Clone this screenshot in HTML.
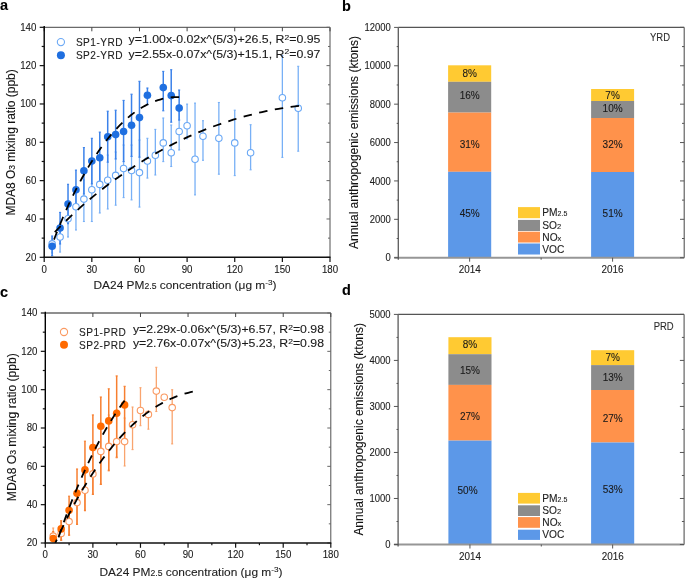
<!DOCTYPE html>
<html><head><meta charset="utf-8"><style>
html,body{margin:0;padding:0;background:#fff;}
svg{display:block;font-family:"Liberation Sans", sans-serif;will-change:transform;}
text{stroke:#1a1a1a;stroke-width:0.1px;}
</style></head><body>
<svg width="685" height="579" viewBox="0 0 685 579">
<rect width="685" height="579" fill="#fff"/>
<clipPath id="clipa"><rect x="44.2" y="27.3" width="285.8" height="230.0"/></clipPath>
<text x="0.00" y="9.60" font-size="14.5" text-anchor="start" fill="#000" font-weight="bold" >a</text>
<line x1="44.2" y1="27.3" x2="330.0" y2="27.3" stroke="#6a6a6a" stroke-width="1.3"/>
<line x1="330.0" y1="27.3" x2="330.0" y2="257.3" stroke="#505050" stroke-width="1"/>
<line x1="44.20" y1="27.3" x2="44.20" y2="31.3" stroke="#444" stroke-width="1"/>
<line x1="91.83" y1="27.3" x2="91.83" y2="31.3" stroke="#444" stroke-width="1"/>
<line x1="139.47" y1="27.3" x2="139.47" y2="31.3" stroke="#444" stroke-width="1"/>
<line x1="187.10" y1="27.3" x2="187.10" y2="31.3" stroke="#444" stroke-width="1"/>
<line x1="234.73" y1="27.3" x2="234.73" y2="31.3" stroke="#444" stroke-width="1"/>
<line x1="282.37" y1="27.3" x2="282.37" y2="31.3" stroke="#444" stroke-width="1"/>
<line x1="330.00" y1="27.3" x2="330.00" y2="31.3" stroke="#444" stroke-width="1"/>
<line x1="330.0" y1="257.30" x2="326.5" y2="257.30" stroke="#666" stroke-width="1"/>
<line x1="330.0" y1="238.13" x2="328.0" y2="238.13" stroke="#666" stroke-width="1"/>
<line x1="330.0" y1="218.97" x2="326.5" y2="218.97" stroke="#666" stroke-width="1"/>
<line x1="330.0" y1="199.80" x2="328.0" y2="199.80" stroke="#666" stroke-width="1"/>
<line x1="330.0" y1="180.63" x2="326.5" y2="180.63" stroke="#666" stroke-width="1"/>
<line x1="330.0" y1="161.47" x2="328.0" y2="161.47" stroke="#666" stroke-width="1"/>
<line x1="330.0" y1="142.30" x2="326.5" y2="142.30" stroke="#666" stroke-width="1"/>
<line x1="330.0" y1="123.13" x2="328.0" y2="123.13" stroke="#666" stroke-width="1"/>
<line x1="330.0" y1="103.97" x2="326.5" y2="103.97" stroke="#666" stroke-width="1"/>
<line x1="330.0" y1="84.80" x2="328.0" y2="84.80" stroke="#666" stroke-width="1"/>
<line x1="330.0" y1="65.63" x2="326.5" y2="65.63" stroke="#666" stroke-width="1"/>
<line x1="330.0" y1="46.47" x2="328.0" y2="46.47" stroke="#666" stroke-width="1"/>
<line x1="330.0" y1="27.30" x2="326.5" y2="27.30" stroke="#666" stroke-width="1"/>
<line x1="52.14" y1="253.00" x2="52.14" y2="238.00" stroke="#78b0f6" stroke-width="1.3"/>
<line x1="51.14" y1="253.00" x2="53.14" y2="253.00" stroke="#78b0f6" stroke-width="1.1"/>
<line x1="51.14" y1="238.00" x2="53.14" y2="238.00" stroke="#78b0f6" stroke-width="1.1"/>
<line x1="60.08" y1="252.10" x2="60.08" y2="222.00" stroke="#78b0f6" stroke-width="1.3"/>
<line x1="59.08" y1="252.10" x2="61.08" y2="252.10" stroke="#78b0f6" stroke-width="1.1"/>
<line x1="59.08" y1="222.00" x2="61.08" y2="222.00" stroke="#78b0f6" stroke-width="1.1"/>
<line x1="68.02" y1="237.00" x2="68.02" y2="203.00" stroke="#78b0f6" stroke-width="1.3"/>
<line x1="67.02" y1="237.00" x2="69.02" y2="237.00" stroke="#78b0f6" stroke-width="1.1"/>
<line x1="67.02" y1="203.00" x2="69.02" y2="203.00" stroke="#78b0f6" stroke-width="1.1"/>
<line x1="75.96" y1="230.00" x2="75.96" y2="190.00" stroke="#78b0f6" stroke-width="1.3"/>
<line x1="74.96" y1="230.00" x2="76.96" y2="230.00" stroke="#78b0f6" stroke-width="1.1"/>
<line x1="74.96" y1="190.00" x2="76.96" y2="190.00" stroke="#78b0f6" stroke-width="1.1"/>
<line x1="83.89" y1="221.50" x2="83.89" y2="180.00" stroke="#78b0f6" stroke-width="1.3"/>
<line x1="82.89" y1="221.50" x2="84.89" y2="221.50" stroke="#78b0f6" stroke-width="1.1"/>
<line x1="82.89" y1="180.00" x2="84.89" y2="180.00" stroke="#78b0f6" stroke-width="1.1"/>
<line x1="91.83" y1="221.50" x2="91.83" y2="165.00" stroke="#78b0f6" stroke-width="1.3"/>
<line x1="90.83" y1="221.50" x2="92.83" y2="221.50" stroke="#78b0f6" stroke-width="1.1"/>
<line x1="90.83" y1="165.00" x2="92.83" y2="165.00" stroke="#78b0f6" stroke-width="1.1"/>
<line x1="99.77" y1="213.00" x2="99.77" y2="160.00" stroke="#78b0f6" stroke-width="1.3"/>
<line x1="98.77" y1="213.00" x2="100.77" y2="213.00" stroke="#78b0f6" stroke-width="1.1"/>
<line x1="98.77" y1="160.00" x2="100.77" y2="160.00" stroke="#78b0f6" stroke-width="1.1"/>
<line x1="107.71" y1="209.00" x2="107.71" y2="155.00" stroke="#78b0f6" stroke-width="1.3"/>
<line x1="106.71" y1="209.00" x2="108.71" y2="209.00" stroke="#78b0f6" stroke-width="1.1"/>
<line x1="106.71" y1="155.00" x2="108.71" y2="155.00" stroke="#78b0f6" stroke-width="1.1"/>
<line x1="115.65" y1="205.20" x2="115.65" y2="152.00" stroke="#78b0f6" stroke-width="1.3"/>
<line x1="114.65" y1="205.20" x2="116.65" y2="205.20" stroke="#78b0f6" stroke-width="1.1"/>
<line x1="114.65" y1="152.00" x2="116.65" y2="152.00" stroke="#78b0f6" stroke-width="1.1"/>
<line x1="123.59" y1="197.60" x2="123.59" y2="145.00" stroke="#78b0f6" stroke-width="1.3"/>
<line x1="122.59" y1="197.60" x2="124.59" y2="197.60" stroke="#78b0f6" stroke-width="1.1"/>
<line x1="122.59" y1="145.00" x2="124.59" y2="145.00" stroke="#78b0f6" stroke-width="1.1"/>
<line x1="131.53" y1="199.90" x2="131.53" y2="145.00" stroke="#78b0f6" stroke-width="1.3"/>
<line x1="130.53" y1="199.90" x2="132.53" y2="199.90" stroke="#78b0f6" stroke-width="1.1"/>
<line x1="130.53" y1="145.00" x2="132.53" y2="145.00" stroke="#78b0f6" stroke-width="1.1"/>
<line x1="139.47" y1="207.10" x2="139.47" y2="140.00" stroke="#78b0f6" stroke-width="1.3"/>
<line x1="138.47" y1="207.10" x2="140.47" y2="207.10" stroke="#78b0f6" stroke-width="1.1"/>
<line x1="138.47" y1="140.00" x2="140.47" y2="140.00" stroke="#78b0f6" stroke-width="1.1"/>
<line x1="147.41" y1="178.10" x2="147.41" y2="138.30" stroke="#78b0f6" stroke-width="1.3"/>
<line x1="146.41" y1="178.10" x2="148.41" y2="178.10" stroke="#78b0f6" stroke-width="1.1"/>
<line x1="146.41" y1="138.30" x2="148.41" y2="138.30" stroke="#78b0f6" stroke-width="1.1"/>
<line x1="155.34" y1="175.00" x2="155.34" y2="129.40" stroke="#78b0f6" stroke-width="1.3"/>
<line x1="154.34" y1="175.00" x2="156.34" y2="175.00" stroke="#78b0f6" stroke-width="1.1"/>
<line x1="154.34" y1="129.40" x2="156.34" y2="129.40" stroke="#78b0f6" stroke-width="1.1"/>
<line x1="163.28" y1="161.60" x2="163.28" y2="118.00" stroke="#78b0f6" stroke-width="1.3"/>
<line x1="162.28" y1="161.60" x2="164.28" y2="161.60" stroke="#78b0f6" stroke-width="1.1"/>
<line x1="162.28" y1="118.00" x2="164.28" y2="118.00" stroke="#78b0f6" stroke-width="1.1"/>
<line x1="171.22" y1="166.50" x2="171.22" y2="125.00" stroke="#78b0f6" stroke-width="1.3"/>
<line x1="170.22" y1="166.50" x2="172.22" y2="166.50" stroke="#78b0f6" stroke-width="1.1"/>
<line x1="170.22" y1="125.00" x2="172.22" y2="125.00" stroke="#78b0f6" stroke-width="1.1"/>
<line x1="179.16" y1="150.00" x2="179.16" y2="105.00" stroke="#78b0f6" stroke-width="1.3"/>
<line x1="178.16" y1="150.00" x2="180.16" y2="150.00" stroke="#78b0f6" stroke-width="1.1"/>
<line x1="178.16" y1="105.00" x2="180.16" y2="105.00" stroke="#78b0f6" stroke-width="1.1"/>
<line x1="187.10" y1="138.80" x2="187.10" y2="104.10" stroke="#78b0f6" stroke-width="1.3"/>
<line x1="186.10" y1="138.80" x2="188.10" y2="138.80" stroke="#78b0f6" stroke-width="1.1"/>
<line x1="186.10" y1="104.10" x2="188.10" y2="104.10" stroke="#78b0f6" stroke-width="1.1"/>
<line x1="195.04" y1="194.90" x2="195.04" y2="103.10" stroke="#78b0f6" stroke-width="1.3"/>
<line x1="194.04" y1="194.90" x2="196.04" y2="194.90" stroke="#78b0f6" stroke-width="1.1"/>
<line x1="194.04" y1="103.10" x2="196.04" y2="103.10" stroke="#78b0f6" stroke-width="1.1"/>
<line x1="202.98" y1="160.30" x2="202.98" y2="120.70" stroke="#78b0f6" stroke-width="1.3"/>
<line x1="201.98" y1="160.30" x2="203.98" y2="160.30" stroke="#78b0f6" stroke-width="1.1"/>
<line x1="201.98" y1="120.70" x2="203.98" y2="120.70" stroke="#78b0f6" stroke-width="1.1"/>
<line x1="218.86" y1="174.20" x2="218.86" y2="102.50" stroke="#78b0f6" stroke-width="1.3"/>
<line x1="217.86" y1="174.20" x2="219.86" y2="174.20" stroke="#78b0f6" stroke-width="1.1"/>
<line x1="217.86" y1="102.50" x2="219.86" y2="102.50" stroke="#78b0f6" stroke-width="1.1"/>
<line x1="234.73" y1="175.60" x2="234.73" y2="110.20" stroke="#78b0f6" stroke-width="1.3"/>
<line x1="233.73" y1="175.60" x2="235.73" y2="175.60" stroke="#78b0f6" stroke-width="1.1"/>
<line x1="233.73" y1="110.20" x2="235.73" y2="110.20" stroke="#78b0f6" stroke-width="1.1"/>
<line x1="250.61" y1="169.80" x2="250.61" y2="124.70" stroke="#78b0f6" stroke-width="1.3"/>
<line x1="249.61" y1="169.80" x2="251.61" y2="169.80" stroke="#78b0f6" stroke-width="1.1"/>
<line x1="249.61" y1="124.70" x2="251.61" y2="124.70" stroke="#78b0f6" stroke-width="1.1"/>
<line x1="282.37" y1="157.40" x2="282.37" y2="55.50" stroke="#78b0f6" stroke-width="1.3"/>
<line x1="281.37" y1="157.40" x2="283.37" y2="157.40" stroke="#78b0f6" stroke-width="1.1"/>
<line x1="281.37" y1="55.50" x2="283.37" y2="55.50" stroke="#78b0f6" stroke-width="1.1"/>
<line x1="298.24" y1="151.20" x2="298.24" y2="66.30" stroke="#78b0f6" stroke-width="1.3"/>
<line x1="297.24" y1="151.20" x2="299.24" y2="151.20" stroke="#78b0f6" stroke-width="1.1"/>
<line x1="297.24" y1="66.30" x2="299.24" y2="66.30" stroke="#78b0f6" stroke-width="1.1"/>
<line x1="52.14" y1="255.70" x2="52.14" y2="236.00" stroke="#3b82ea" stroke-width="1.5"/>
<line x1="51.09" y1="255.70" x2="53.19" y2="255.70" stroke="#3b82ea" stroke-width="1.1"/>
<line x1="51.09" y1="236.00" x2="53.19" y2="236.00" stroke="#3b82ea" stroke-width="1.1"/>
<line x1="60.08" y1="244.00" x2="60.08" y2="212.40" stroke="#3b82ea" stroke-width="1.5"/>
<line x1="59.03" y1="244.00" x2="61.13" y2="244.00" stroke="#3b82ea" stroke-width="1.1"/>
<line x1="59.03" y1="212.40" x2="61.13" y2="212.40" stroke="#3b82ea" stroke-width="1.1"/>
<line x1="68.02" y1="223.70" x2="68.02" y2="184.30" stroke="#3b82ea" stroke-width="1.5"/>
<line x1="66.97" y1="223.70" x2="69.07" y2="223.70" stroke="#3b82ea" stroke-width="1.1"/>
<line x1="66.97" y1="184.30" x2="69.07" y2="184.30" stroke="#3b82ea" stroke-width="1.1"/>
<line x1="75.96" y1="209.50" x2="75.96" y2="170.10" stroke="#3b82ea" stroke-width="1.5"/>
<line x1="74.91" y1="209.50" x2="77.01" y2="209.50" stroke="#3b82ea" stroke-width="1.1"/>
<line x1="74.91" y1="170.10" x2="77.01" y2="170.10" stroke="#3b82ea" stroke-width="1.1"/>
<line x1="83.89" y1="194.00" x2="83.89" y2="147.60" stroke="#3b82ea" stroke-width="1.5"/>
<line x1="82.84" y1="194.00" x2="84.94" y2="194.00" stroke="#3b82ea" stroke-width="1.1"/>
<line x1="82.84" y1="147.60" x2="84.94" y2="147.60" stroke="#3b82ea" stroke-width="1.1"/>
<line x1="91.83" y1="183.90" x2="91.83" y2="138.30" stroke="#3b82ea" stroke-width="1.5"/>
<line x1="90.78" y1="183.90" x2="92.88" y2="183.90" stroke="#3b82ea" stroke-width="1.1"/>
<line x1="90.78" y1="138.30" x2="92.88" y2="138.30" stroke="#3b82ea" stroke-width="1.1"/>
<line x1="99.77" y1="183.50" x2="99.77" y2="132.10" stroke="#3b82ea" stroke-width="1.5"/>
<line x1="98.72" y1="183.50" x2="100.82" y2="183.50" stroke="#3b82ea" stroke-width="1.1"/>
<line x1="98.72" y1="132.10" x2="100.82" y2="132.10" stroke="#3b82ea" stroke-width="1.1"/>
<line x1="107.71" y1="162.20" x2="107.71" y2="111.20" stroke="#3b82ea" stroke-width="1.5"/>
<line x1="106.66" y1="162.20" x2="108.76" y2="162.20" stroke="#3b82ea" stroke-width="1.1"/>
<line x1="106.66" y1="111.20" x2="108.76" y2="111.20" stroke="#3b82ea" stroke-width="1.1"/>
<line x1="115.65" y1="159.00" x2="115.65" y2="110.20" stroke="#3b82ea" stroke-width="1.5"/>
<line x1="114.60" y1="159.00" x2="116.70" y2="159.00" stroke="#3b82ea" stroke-width="1.1"/>
<line x1="114.60" y1="110.20" x2="116.70" y2="110.20" stroke="#3b82ea" stroke-width="1.1"/>
<line x1="123.59" y1="161.60" x2="123.59" y2="100.40" stroke="#3b82ea" stroke-width="1.5"/>
<line x1="122.54" y1="161.60" x2="124.64" y2="161.60" stroke="#3b82ea" stroke-width="1.1"/>
<line x1="122.54" y1="100.40" x2="124.64" y2="100.40" stroke="#3b82ea" stroke-width="1.1"/>
<line x1="131.53" y1="156.40" x2="131.53" y2="94.20" stroke="#3b82ea" stroke-width="1.5"/>
<line x1="130.48" y1="156.40" x2="132.58" y2="156.40" stroke="#3b82ea" stroke-width="1.1"/>
<line x1="130.48" y1="94.20" x2="132.58" y2="94.20" stroke="#3b82ea" stroke-width="1.1"/>
<line x1="139.47" y1="157.20" x2="139.47" y2="81.30" stroke="#3b82ea" stroke-width="1.5"/>
<line x1="138.42" y1="157.20" x2="140.52" y2="157.20" stroke="#3b82ea" stroke-width="1.1"/>
<line x1="138.42" y1="81.30" x2="140.52" y2="81.30" stroke="#3b82ea" stroke-width="1.1"/>
<line x1="147.41" y1="104.60" x2="147.41" y2="88.00" stroke="#3b82ea" stroke-width="1.5"/>
<line x1="146.36" y1="104.60" x2="148.46" y2="104.60" stroke="#3b82ea" stroke-width="1.1"/>
<line x1="146.36" y1="88.00" x2="148.46" y2="88.00" stroke="#3b82ea" stroke-width="1.1"/>
<line x1="163.28" y1="110.80" x2="163.28" y2="71.40" stroke="#3b82ea" stroke-width="1.5"/>
<line x1="162.23" y1="110.80" x2="164.33" y2="110.80" stroke="#3b82ea" stroke-width="1.1"/>
<line x1="162.23" y1="71.40" x2="164.33" y2="71.40" stroke="#3b82ea" stroke-width="1.1"/>
<line x1="171.22" y1="122.20" x2="171.22" y2="69.70" stroke="#3b82ea" stroke-width="1.5"/>
<line x1="170.17" y1="122.20" x2="172.27" y2="122.20" stroke="#3b82ea" stroke-width="1.1"/>
<line x1="170.17" y1="69.70" x2="172.27" y2="69.70" stroke="#3b82ea" stroke-width="1.1"/>
<line x1="179.16" y1="120.10" x2="179.16" y2="90.00" stroke="#3b82ea" stroke-width="1.5"/>
<line x1="178.11" y1="120.10" x2="180.21" y2="120.10" stroke="#3b82ea" stroke-width="1.1"/>
<line x1="178.11" y1="90.00" x2="180.21" y2="90.00" stroke="#3b82ea" stroke-width="1.1"/>
<circle cx="52.14" cy="243.90" r="3.25" fill="#fff" stroke="#6aa8f5" stroke-width="1.1"/>
<circle cx="60.08" cy="237.00" r="3.25" fill="#fff" stroke="#6aa8f5" stroke-width="1.1"/>
<circle cx="68.02" cy="218.80" r="3.25" fill="#fff" stroke="#6aa8f5" stroke-width="1.1"/>
<circle cx="75.96" cy="206.80" r="3.25" fill="#fff" stroke="#6aa8f5" stroke-width="1.1"/>
<circle cx="83.89" cy="199.10" r="3.25" fill="#fff" stroke="#6aa8f5" stroke-width="1.1"/>
<circle cx="91.83" cy="189.70" r="3.25" fill="#fff" stroke="#6aa8f5" stroke-width="1.1"/>
<circle cx="99.77" cy="184.40" r="3.25" fill="#fff" stroke="#6aa8f5" stroke-width="1.1"/>
<circle cx="107.71" cy="180.30" r="3.25" fill="#fff" stroke="#6aa8f5" stroke-width="1.1"/>
<circle cx="115.65" cy="175.40" r="3.25" fill="#fff" stroke="#6aa8f5" stroke-width="1.1"/>
<circle cx="123.59" cy="168.50" r="3.25" fill="#fff" stroke="#6aa8f5" stroke-width="1.1"/>
<circle cx="131.53" cy="170.50" r="3.25" fill="#fff" stroke="#6aa8f5" stroke-width="1.1"/>
<circle cx="139.47" cy="172.60" r="3.25" fill="#fff" stroke="#6aa8f5" stroke-width="1.1"/>
<circle cx="147.41" cy="161.00" r="3.25" fill="#fff" stroke="#6aa8f5" stroke-width="1.1"/>
<circle cx="155.34" cy="155.30" r="3.25" fill="#fff" stroke="#6aa8f5" stroke-width="1.1"/>
<circle cx="163.28" cy="142.90" r="3.25" fill="#fff" stroke="#6aa8f5" stroke-width="1.1"/>
<circle cx="171.22" cy="152.80" r="3.25" fill="#fff" stroke="#6aa8f5" stroke-width="1.1"/>
<circle cx="179.16" cy="131.50" r="3.25" fill="#fff" stroke="#6aa8f5" stroke-width="1.1"/>
<circle cx="187.10" cy="125.70" r="3.25" fill="#fff" stroke="#6aa8f5" stroke-width="1.1"/>
<circle cx="195.04" cy="159.20" r="3.25" fill="#fff" stroke="#6aa8f5" stroke-width="1.1"/>
<circle cx="202.98" cy="136.30" r="3.25" fill="#fff" stroke="#6aa8f5" stroke-width="1.1"/>
<circle cx="218.86" cy="138.30" r="3.25" fill="#fff" stroke="#6aa8f5" stroke-width="1.1"/>
<circle cx="234.73" cy="142.90" r="3.25" fill="#fff" stroke="#6aa8f5" stroke-width="1.1"/>
<circle cx="250.61" cy="152.80" r="3.25" fill="#fff" stroke="#6aa8f5" stroke-width="1.1"/>
<circle cx="282.37" cy="97.70" r="3.25" fill="#fff" stroke="#6aa8f5" stroke-width="1.1"/>
<circle cx="298.24" cy="108.30" r="3.25" fill="#fff" stroke="#6aa8f5" stroke-width="1.1"/>
<circle cx="52.14" cy="246.20" r="3.8" fill="#1f6fe0"/>
<circle cx="60.08" cy="228.00" r="3.8" fill="#1f6fe0"/>
<circle cx="68.02" cy="204.00" r="3.8" fill="#1f6fe0"/>
<circle cx="75.96" cy="189.80" r="3.8" fill="#1f6fe0"/>
<circle cx="83.89" cy="170.80" r="3.8" fill="#1f6fe0"/>
<circle cx="91.83" cy="161.10" r="3.8" fill="#1f6fe0"/>
<circle cx="99.77" cy="157.80" r="3.8" fill="#1f6fe0"/>
<circle cx="107.71" cy="136.70" r="3.8" fill="#1f6fe0"/>
<circle cx="115.65" cy="134.60" r="3.8" fill="#1f6fe0"/>
<circle cx="123.59" cy="131.50" r="3.8" fill="#1f6fe0"/>
<circle cx="131.53" cy="125.30" r="3.8" fill="#1f6fe0"/>
<circle cx="139.47" cy="117.60" r="3.8" fill="#1f6fe0"/>
<circle cx="147.41" cy="95.20" r="3.8" fill="#1f6fe0"/>
<circle cx="163.28" cy="87.60" r="3.8" fill="#1f6fe0"/>
<circle cx="171.22" cy="95.60" r="3.8" fill="#1f6fe0"/>
<circle cx="179.16" cy="108.10" r="3.8" fill="#1f6fe0"/>
<polyline points="52.14,234.93 56.25,230.59 60.37,226.37 64.48,222.28 68.60,218.29 72.71,214.41 76.83,210.63 80.94,206.93 85.06,203.33 89.17,199.82 93.29,196.39 97.40,193.03 101.52,189.76 105.63,186.57 109.75,183.45 113.86,180.41 117.98,177.43 122.09,174.53 126.21,171.70 130.32,168.94 134.44,166.24 138.55,163.62 142.67,161.05 146.78,158.55 150.90,156.12 155.01,153.75 159.13,151.43 163.24,149.19 167.36,147.00 171.47,144.87 175.59,142.80 179.70,140.79 183.82,138.83 187.93,136.94 192.05,135.10 196.16,133.32 200.28,131.59 204.39,129.92 208.51,128.30 212.62,126.74 216.74,125.23 220.85,123.78 224.97,122.38 229.08,121.03 233.20,119.73 237.31,118.49 241.43,117.30 245.54,116.16 249.66,115.06 253.77,114.02 257.89,113.03 262.00,112.09 266.12,111.20 270.23,110.36 274.35,109.57 278.46,108.82 282.58,108.13 286.69,107.48 290.81,106.88 294.92,106.33 299.04,105.82" fill="none" stroke="#000" stroke-width="1.8" stroke-dasharray="8.5,7.5" stroke-dashoffset="12.15" clip-path="url(#clipa)"/>
<polyline points="52.14,244.67 54.26,239.01 56.37,233.53 58.49,228.21 60.61,223.03 62.72,218.01 64.84,213.12 66.96,208.36 69.08,203.73 71.19,199.23 73.31,194.85 75.43,190.59 77.54,186.45 79.66,182.42 81.78,178.50 83.89,174.69 86.01,170.99 88.13,167.40 90.25,163.90 92.36,160.51 94.48,157.23 96.60,154.04 98.71,150.94 100.83,147.95 102.95,145.05 105.06,142.24 107.18,139.53 109.30,136.91 111.42,134.38 113.53,131.94 115.65,129.59 117.77,127.33 119.88,125.16 122.00,123.07 124.12,121.07 126.24,119.15 128.35,117.32 130.47,115.57 132.59,113.91 134.70,112.32 136.82,110.82 138.94,109.40 141.05,108.06 143.17,106.80 145.29,105.62 147.41,104.52 149.52,103.49 151.64,102.54 153.76,101.67 155.87,100.88 157.99,100.16 160.11,99.52 162.22,98.96 164.34,98.46 166.46,98.05 168.58,97.70 170.69,97.43 172.81,97.24 174.93,97.11 177.04,97.06 179.16,97.08" fill="none" stroke="#000" stroke-width="1.8" stroke-dasharray="8.5,7.5" stroke-dashoffset="10.67" clip-path="url(#clipa)"/>
<line x1="44.2" y1="26.1" x2="44.2" y2="257.90000000000003" stroke="#000" stroke-width="1.4"/>
<line x1="43.6" y1="257.3" x2="330.5" y2="257.3" stroke="#111" stroke-width="1.4"/>
<line x1="44.20" y1="257.3" x2="44.20" y2="262.1" stroke="#111" stroke-width="1.2"/>
<text x="44.20" y="272.50" font-size="10.1" text-anchor="middle" fill="#1a1a1a" font-weight="normal" textLength="5.39" lengthAdjust="spacingAndGlyphs" >0</text>
<line x1="91.83" y1="257.3" x2="91.83" y2="262.1" stroke="#111" stroke-width="1.2"/>
<text x="91.83" y="272.50" font-size="10.1" text-anchor="middle" fill="#1a1a1a" font-weight="normal" textLength="10.78" lengthAdjust="spacingAndGlyphs" >30</text>
<line x1="139.47" y1="257.3" x2="139.47" y2="262.1" stroke="#111" stroke-width="1.2"/>
<text x="139.47" y="272.50" font-size="10.1" text-anchor="middle" fill="#1a1a1a" font-weight="normal" textLength="10.78" lengthAdjust="spacingAndGlyphs" >60</text>
<line x1="187.10" y1="257.3" x2="187.10" y2="262.1" stroke="#111" stroke-width="1.2"/>
<text x="187.10" y="272.50" font-size="10.1" text-anchor="middle" fill="#1a1a1a" font-weight="normal" textLength="10.78" lengthAdjust="spacingAndGlyphs" >90</text>
<line x1="234.73" y1="257.3" x2="234.73" y2="262.1" stroke="#111" stroke-width="1.2"/>
<text x="234.73" y="272.50" font-size="10.1" text-anchor="middle" fill="#1a1a1a" font-weight="normal" textLength="16.17" lengthAdjust="spacingAndGlyphs" >120</text>
<line x1="282.37" y1="257.3" x2="282.37" y2="262.1" stroke="#111" stroke-width="1.2"/>
<text x="282.37" y="272.50" font-size="10.1" text-anchor="middle" fill="#1a1a1a" font-weight="normal" textLength="16.17" lengthAdjust="spacingAndGlyphs" >150</text>
<line x1="330.00" y1="257.3" x2="330.00" y2="262.1" stroke="#111" stroke-width="1.2"/>
<text x="330.00" y="272.50" font-size="10.1" text-anchor="middle" fill="#1a1a1a" font-weight="normal" textLength="16.17" lengthAdjust="spacingAndGlyphs" >180</text>
<line x1="44.2" y1="257.30" x2="39.7" y2="257.30" stroke="#111" stroke-width="1.2"/>
<text x="36.40" y="260.70" font-size="10.1" text-anchor="end" fill="#1a1a1a" font-weight="normal" textLength="10.78" lengthAdjust="spacingAndGlyphs" >20</text>
<line x1="44.2" y1="238.13" x2="41.7" y2="238.13" stroke="#111" stroke-width="1.2"/>
<line x1="44.2" y1="218.97" x2="39.7" y2="218.97" stroke="#111" stroke-width="1.2"/>
<text x="36.40" y="222.37" font-size="10.1" text-anchor="end" fill="#1a1a1a" font-weight="normal" textLength="10.78" lengthAdjust="spacingAndGlyphs" >40</text>
<line x1="44.2" y1="199.80" x2="41.7" y2="199.80" stroke="#111" stroke-width="1.2"/>
<line x1="44.2" y1="180.63" x2="39.7" y2="180.63" stroke="#111" stroke-width="1.2"/>
<text x="36.40" y="184.03" font-size="10.1" text-anchor="end" fill="#1a1a1a" font-weight="normal" textLength="10.78" lengthAdjust="spacingAndGlyphs" >60</text>
<line x1="44.2" y1="161.47" x2="41.7" y2="161.47" stroke="#111" stroke-width="1.2"/>
<line x1="44.2" y1="142.30" x2="39.7" y2="142.30" stroke="#111" stroke-width="1.2"/>
<text x="36.40" y="145.70" font-size="10.1" text-anchor="end" fill="#1a1a1a" font-weight="normal" textLength="10.78" lengthAdjust="spacingAndGlyphs" >80</text>
<line x1="44.2" y1="123.13" x2="41.7" y2="123.13" stroke="#111" stroke-width="1.2"/>
<line x1="44.2" y1="103.97" x2="39.7" y2="103.97" stroke="#111" stroke-width="1.2"/>
<text x="36.40" y="107.37" font-size="10.1" text-anchor="end" fill="#1a1a1a" font-weight="normal" textLength="16.17" lengthAdjust="spacingAndGlyphs" >100</text>
<line x1="44.2" y1="84.80" x2="41.7" y2="84.80" stroke="#111" stroke-width="1.2"/>
<line x1="44.2" y1="65.63" x2="39.7" y2="65.63" stroke="#111" stroke-width="1.2"/>
<text x="36.40" y="69.03" font-size="10.1" text-anchor="end" fill="#1a1a1a" font-weight="normal" textLength="16.17" lengthAdjust="spacingAndGlyphs" >120</text>
<line x1="44.2" y1="46.47" x2="41.7" y2="46.47" stroke="#111" stroke-width="1.2"/>
<line x1="44.2" y1="27.30" x2="39.7" y2="27.30" stroke="#111" stroke-width="1.2"/>
<text x="36.40" y="30.70" font-size="10.1" text-anchor="end" fill="#1a1a1a" font-weight="normal" textLength="16.17" lengthAdjust="spacingAndGlyphs" >140</text>
<circle cx="60.9" cy="42.1" r="3.6" fill="#fff" stroke="#6aa8f5" stroke-width="1.1"/>
<circle cx="60.9" cy="55.3" r="4" fill="#1f6fe0"/>
<text x="75.90" y="45.90" font-size="10.1" text-anchor="start" fill="#222" font-weight="normal" letter-spacing="0.5">SP1-YRD</text>
<text x="75.90" y="59.10" font-size="10.1" text-anchor="start" fill="#222" font-weight="normal" letter-spacing="0.5">SP2-YRD</text>
<text x="128.60" y="43.10" font-size="10.1" text-anchor="start" fill="#1a1a1a" font-weight="normal" textLength="191.8" lengthAdjust="spacingAndGlyphs" >y=1.00x-0.02x^(5/3)+26.5, R<tspan font-size="7" dy="-3.5">2</tspan><tspan dy="3.5">=0.95</tspan></text>
<text x="128.60" y="57.90" font-size="10.1" text-anchor="start" fill="#1a1a1a" font-weight="normal" textLength="191.8" lengthAdjust="spacingAndGlyphs" >y=2.55x-0.07x^(5/3)+15.1, R<tspan font-size="7" dy="-3.5">2</tspan><tspan dy="3.5">=0.97</tspan></text>
<text x="93.5" y="289.2" font-size="11.7" fill="#222" textLength="183" lengthAdjust="spacingAndGlyphs">DA24 PM<tspan font-size="8.5">2.5</tspan> concentration (μg m<tspan font-size="8" dy="-4">-3</tspan><tspan dy="4">)</tspan></text>
<text x="0" y="0" transform="translate(14.7,142.4) rotate(-90)" text-anchor="middle" font-size="12" fill="#111" textLength="146.2" lengthAdjust="spacingAndGlyphs">MDA8 O<tspan font-size="8.5">3</tspan> mixing ratio (ppb)</text>
<clipPath id="clipc"><rect x="45.3" y="313.0" width="285.5" height="230.0"/></clipPath>
<text x="0.00" y="296.80" font-size="14.5" text-anchor="start" fill="#000" font-weight="bold" >c</text>
<line x1="45.3" y1="313.0" x2="330.8" y2="313.0" stroke="#6a6a6a" stroke-width="1.3"/>
<line x1="330.8" y1="313.0" x2="330.8" y2="543.0" stroke="#505050" stroke-width="1"/>
<line x1="45.30" y1="313.0" x2="45.30" y2="317.0" stroke="#444" stroke-width="1"/>
<line x1="92.88" y1="313.0" x2="92.88" y2="317.0" stroke="#444" stroke-width="1"/>
<line x1="140.47" y1="313.0" x2="140.47" y2="317.0" stroke="#444" stroke-width="1"/>
<line x1="188.05" y1="313.0" x2="188.05" y2="317.0" stroke="#444" stroke-width="1"/>
<line x1="235.63" y1="313.0" x2="235.63" y2="317.0" stroke="#444" stroke-width="1"/>
<line x1="283.22" y1="313.0" x2="283.22" y2="317.0" stroke="#444" stroke-width="1"/>
<line x1="330.80" y1="313.0" x2="330.80" y2="317.0" stroke="#444" stroke-width="1"/>
<line x1="330.8" y1="543.00" x2="327.3" y2="543.00" stroke="#666" stroke-width="1"/>
<line x1="330.8" y1="523.83" x2="328.8" y2="523.83" stroke="#666" stroke-width="1"/>
<line x1="330.8" y1="504.67" x2="327.3" y2="504.67" stroke="#666" stroke-width="1"/>
<line x1="330.8" y1="485.50" x2="328.8" y2="485.50" stroke="#666" stroke-width="1"/>
<line x1="330.8" y1="466.33" x2="327.3" y2="466.33" stroke="#666" stroke-width="1"/>
<line x1="330.8" y1="447.17" x2="328.8" y2="447.17" stroke="#666" stroke-width="1"/>
<line x1="330.8" y1="428.00" x2="327.3" y2="428.00" stroke="#666" stroke-width="1"/>
<line x1="330.8" y1="408.83" x2="328.8" y2="408.83" stroke="#666" stroke-width="1"/>
<line x1="330.8" y1="389.67" x2="327.3" y2="389.67" stroke="#666" stroke-width="1"/>
<line x1="330.8" y1="370.50" x2="328.8" y2="370.50" stroke="#666" stroke-width="1"/>
<line x1="330.8" y1="351.33" x2="327.3" y2="351.33" stroke="#666" stroke-width="1"/>
<line x1="330.8" y1="332.17" x2="328.8" y2="332.17" stroke="#666" stroke-width="1"/>
<line x1="330.8" y1="313.00" x2="327.3" y2="313.00" stroke="#666" stroke-width="1"/>
<line x1="53.23" y1="542.00" x2="53.23" y2="528.00" stroke="#f9a46e" stroke-width="1.3"/>
<line x1="52.23" y1="542.00" x2="54.23" y2="542.00" stroke="#f9a46e" stroke-width="1.1"/>
<line x1="52.23" y1="528.00" x2="54.23" y2="528.00" stroke="#f9a46e" stroke-width="1.1"/>
<line x1="61.16" y1="540.00" x2="61.16" y2="522.00" stroke="#f9a46e" stroke-width="1.3"/>
<line x1="60.16" y1="540.00" x2="62.16" y2="540.00" stroke="#f9a46e" stroke-width="1.1"/>
<line x1="60.16" y1="522.00" x2="62.16" y2="522.00" stroke="#f9a46e" stroke-width="1.1"/>
<line x1="69.09" y1="535.00" x2="69.09" y2="505.00" stroke="#f9a46e" stroke-width="1.3"/>
<line x1="68.09" y1="535.00" x2="70.09" y2="535.00" stroke="#f9a46e" stroke-width="1.1"/>
<line x1="68.09" y1="505.00" x2="70.09" y2="505.00" stroke="#f9a46e" stroke-width="1.1"/>
<line x1="77.02" y1="524.00" x2="77.02" y2="485.00" stroke="#f9a46e" stroke-width="1.3"/>
<line x1="76.02" y1="524.00" x2="78.02" y2="524.00" stroke="#f9a46e" stroke-width="1.1"/>
<line x1="76.02" y1="485.00" x2="78.02" y2="485.00" stroke="#f9a46e" stroke-width="1.1"/>
<line x1="84.95" y1="510.00" x2="84.95" y2="465.00" stroke="#f9a46e" stroke-width="1.3"/>
<line x1="83.95" y1="510.00" x2="85.95" y2="510.00" stroke="#f9a46e" stroke-width="1.1"/>
<line x1="83.95" y1="465.00" x2="85.95" y2="465.00" stroke="#f9a46e" stroke-width="1.1"/>
<line x1="92.88" y1="494.00" x2="92.88" y2="445.00" stroke="#f9a46e" stroke-width="1.3"/>
<line x1="91.88" y1="494.00" x2="93.88" y2="494.00" stroke="#f9a46e" stroke-width="1.1"/>
<line x1="91.88" y1="445.00" x2="93.88" y2="445.00" stroke="#f9a46e" stroke-width="1.1"/>
<line x1="100.81" y1="484.00" x2="100.81" y2="425.00" stroke="#f9a46e" stroke-width="1.3"/>
<line x1="99.81" y1="484.00" x2="101.81" y2="484.00" stroke="#f9a46e" stroke-width="1.1"/>
<line x1="99.81" y1="425.00" x2="101.81" y2="425.00" stroke="#f9a46e" stroke-width="1.1"/>
<line x1="108.74" y1="470.00" x2="108.74" y2="415.00" stroke="#f9a46e" stroke-width="1.3"/>
<line x1="107.74" y1="470.00" x2="109.74" y2="470.00" stroke="#f9a46e" stroke-width="1.1"/>
<line x1="107.74" y1="415.00" x2="109.74" y2="415.00" stroke="#f9a46e" stroke-width="1.1"/>
<line x1="116.67" y1="457.80" x2="116.67" y2="410.00" stroke="#f9a46e" stroke-width="1.3"/>
<line x1="115.67" y1="457.80" x2="117.67" y2="457.80" stroke="#f9a46e" stroke-width="1.1"/>
<line x1="115.67" y1="410.00" x2="117.67" y2="410.00" stroke="#f9a46e" stroke-width="1.1"/>
<line x1="124.61" y1="466.00" x2="124.61" y2="418.00" stroke="#f9a46e" stroke-width="1.3"/>
<line x1="123.61" y1="466.00" x2="125.61" y2="466.00" stroke="#f9a46e" stroke-width="1.1"/>
<line x1="123.61" y1="418.00" x2="125.61" y2="418.00" stroke="#f9a46e" stroke-width="1.1"/>
<line x1="132.54" y1="449.60" x2="132.54" y2="407.00" stroke="#f9a46e" stroke-width="1.3"/>
<line x1="131.54" y1="449.60" x2="133.54" y2="449.60" stroke="#f9a46e" stroke-width="1.1"/>
<line x1="131.54" y1="407.00" x2="133.54" y2="407.00" stroke="#f9a46e" stroke-width="1.1"/>
<line x1="140.47" y1="425.70" x2="140.47" y2="387.70" stroke="#f9a46e" stroke-width="1.3"/>
<line x1="139.47" y1="425.70" x2="141.47" y2="425.70" stroke="#f9a46e" stroke-width="1.1"/>
<line x1="139.47" y1="387.70" x2="141.47" y2="387.70" stroke="#f9a46e" stroke-width="1.1"/>
<line x1="148.40" y1="429.20" x2="148.40" y2="414.40" stroke="#f9a46e" stroke-width="1.3"/>
<line x1="147.40" y1="429.20" x2="149.40" y2="429.20" stroke="#f9a46e" stroke-width="1.1"/>
<line x1="156.33" y1="411.50" x2="156.33" y2="367.30" stroke="#f9a46e" stroke-width="1.3"/>
<line x1="155.33" y1="411.50" x2="157.33" y2="411.50" stroke="#f9a46e" stroke-width="1.1"/>
<line x1="155.33" y1="367.30" x2="157.33" y2="367.30" stroke="#f9a46e" stroke-width="1.1"/>
<line x1="164.26" y1="397.20" x2="164.26" y2="397.20" stroke="#f9a46e" stroke-width="1.3"/>
<line x1="172.19" y1="443.90" x2="172.19" y2="389.70" stroke="#f9a46e" stroke-width="1.3"/>
<line x1="171.19" y1="443.90" x2="173.19" y2="443.90" stroke="#f9a46e" stroke-width="1.1"/>
<line x1="171.19" y1="389.70" x2="173.19" y2="389.70" stroke="#f9a46e" stroke-width="1.1"/>
<line x1="53.23" y1="541.60" x2="53.23" y2="531.60" stroke="#f77f30" stroke-width="1.5"/>
<line x1="52.18" y1="531.60" x2="54.28" y2="531.60" stroke="#f77f30" stroke-width="1.1"/>
<line x1="61.16" y1="540.30" x2="61.16" y2="520.70" stroke="#f77f30" stroke-width="1.5"/>
<line x1="60.11" y1="540.30" x2="62.21" y2="540.30" stroke="#f77f30" stroke-width="1.1"/>
<line x1="60.11" y1="520.70" x2="62.21" y2="520.70" stroke="#f77f30" stroke-width="1.1"/>
<line x1="69.09" y1="535.20" x2="69.09" y2="496.20" stroke="#f77f30" stroke-width="1.5"/>
<line x1="68.04" y1="535.20" x2="70.14" y2="535.20" stroke="#f77f30" stroke-width="1.1"/>
<line x1="68.04" y1="496.20" x2="70.14" y2="496.20" stroke="#f77f30" stroke-width="1.1"/>
<line x1="77.02" y1="524.40" x2="77.02" y2="469.00" stroke="#f77f30" stroke-width="1.5"/>
<line x1="75.97" y1="524.40" x2="78.07" y2="524.40" stroke="#f77f30" stroke-width="1.1"/>
<line x1="75.97" y1="469.00" x2="78.07" y2="469.00" stroke="#f77f30" stroke-width="1.1"/>
<line x1="84.95" y1="510.70" x2="84.95" y2="441.20" stroke="#f77f30" stroke-width="1.5"/>
<line x1="83.90" y1="510.70" x2="86.00" y2="510.70" stroke="#f77f30" stroke-width="1.1"/>
<line x1="83.90" y1="441.20" x2="86.00" y2="441.20" stroke="#f77f30" stroke-width="1.1"/>
<line x1="92.88" y1="494.40" x2="92.88" y2="414.90" stroke="#f77f30" stroke-width="1.5"/>
<line x1="91.83" y1="494.40" x2="93.93" y2="494.40" stroke="#f77f30" stroke-width="1.1"/>
<line x1="91.83" y1="414.90" x2="93.93" y2="414.90" stroke="#f77f30" stroke-width="1.1"/>
<line x1="100.81" y1="484.40" x2="100.81" y2="397.00" stroke="#f77f30" stroke-width="1.5"/>
<line x1="99.76" y1="484.40" x2="101.86" y2="484.40" stroke="#f77f30" stroke-width="1.1"/>
<line x1="99.76" y1="397.00" x2="101.86" y2="397.00" stroke="#f77f30" stroke-width="1.1"/>
<line x1="108.74" y1="470.80" x2="108.74" y2="388.80" stroke="#f77f30" stroke-width="1.5"/>
<line x1="107.69" y1="470.80" x2="109.79" y2="470.80" stroke="#f77f30" stroke-width="1.1"/>
<line x1="107.69" y1="388.80" x2="109.79" y2="388.80" stroke="#f77f30" stroke-width="1.1"/>
<line x1="116.67" y1="457.20" x2="116.67" y2="375.90" stroke="#f77f30" stroke-width="1.5"/>
<line x1="115.62" y1="457.20" x2="117.72" y2="457.20" stroke="#f77f30" stroke-width="1.1"/>
<line x1="115.62" y1="375.90" x2="117.72" y2="375.90" stroke="#f77f30" stroke-width="1.1"/>
<line x1="124.61" y1="440.00" x2="124.61" y2="386.30" stroke="#f77f30" stroke-width="1.5"/>
<line x1="123.56" y1="440.00" x2="125.66" y2="440.00" stroke="#f77f30" stroke-width="1.1"/>
<line x1="123.56" y1="386.30" x2="125.66" y2="386.30" stroke="#f77f30" stroke-width="1.1"/>
<circle cx="53.23" cy="536.10" r="3.25" fill="#fff" stroke="#fa9a62" stroke-width="1.1"/>
<circle cx="61.16" cy="533.40" r="3.25" fill="#fff" stroke="#fa9a62" stroke-width="1.1"/>
<circle cx="69.09" cy="521.60" r="3.25" fill="#fff" stroke="#fa9a62" stroke-width="1.1"/>
<circle cx="77.02" cy="502.60" r="3.25" fill="#fff" stroke="#fa9a62" stroke-width="1.1"/>
<circle cx="84.95" cy="490.20" r="3.25" fill="#fff" stroke="#fa9a62" stroke-width="1.1"/>
<circle cx="92.88" cy="473.90" r="3.25" fill="#fff" stroke="#fa9a62" stroke-width="1.1"/>
<circle cx="100.81" cy="451.40" r="3.25" fill="#fff" stroke="#fa9a62" stroke-width="1.1"/>
<circle cx="108.74" cy="446.40" r="3.25" fill="#fff" stroke="#fa9a62" stroke-width="1.1"/>
<circle cx="116.67" cy="441.60" r="3.25" fill="#fff" stroke="#fa9a62" stroke-width="1.1"/>
<circle cx="124.61" cy="441.60" r="3.25" fill="#fff" stroke="#fa9a62" stroke-width="1.1"/>
<circle cx="132.54" cy="424.80" r="3.25" fill="#fff" stroke="#fa9a62" stroke-width="1.1"/>
<circle cx="140.47" cy="410.50" r="3.25" fill="#fff" stroke="#fa9a62" stroke-width="1.1"/>
<circle cx="148.40" cy="414.40" r="3.25" fill="#fff" stroke="#fa9a62" stroke-width="1.1"/>
<circle cx="156.33" cy="391.10" r="3.25" fill="#fff" stroke="#fa9a62" stroke-width="1.1"/>
<circle cx="164.26" cy="397.20" r="3.25" fill="#fff" stroke="#fa9a62" stroke-width="1.1"/>
<circle cx="172.19" cy="407.60" r="3.25" fill="#fff" stroke="#fa9a62" stroke-width="1.1"/>
<circle cx="53.23" cy="538.50" r="3.8" fill="#ff6a00"/>
<circle cx="61.16" cy="528.90" r="3.8" fill="#ff6a00"/>
<circle cx="69.09" cy="510.20" r="3.8" fill="#ff6a00"/>
<circle cx="77.02" cy="493.20" r="3.8" fill="#ff6a00"/>
<circle cx="84.95" cy="469.90" r="3.8" fill="#ff6a00"/>
<circle cx="92.88" cy="447.50" r="3.8" fill="#ff6a00"/>
<circle cx="100.81" cy="426.30" r="3.8" fill="#ff6a00"/>
<circle cx="108.74" cy="420.90" r="3.8" fill="#ff6a00"/>
<circle cx="116.67" cy="413.20" r="3.8" fill="#ff6a00"/>
<circle cx="124.61" cy="404.90" r="3.8" fill="#ff6a00"/>
<polyline points="53.23,547.81 55.56,542.46 57.88,537.26 60.21,532.20 62.54,527.27 64.86,522.46 67.19,517.78 69.51,513.21 71.84,508.75 74.17,504.40 76.49,500.15 78.82,496.01 81.15,491.97 83.47,488.02 85.80,484.18 88.12,480.42 90.45,476.76 92.78,473.19 95.10,469.70 97.43,466.31 99.76,463.00 102.08,459.77 104.41,456.63 106.74,453.58 109.06,450.60 111.39,447.71 113.71,444.89 116.04,442.16 118.37,439.50 120.69,436.92 123.02,434.41 125.35,431.98 127.67,429.63 130.00,427.35 132.32,425.14 134.65,423.01 136.98,420.94 139.30,418.95 141.63,417.03 143.96,415.19 146.28,413.41 148.61,411.70 150.94,410.05 153.26,408.48 155.59,406.98 157.91,405.54 160.24,404.17 162.57,402.86 164.89,401.62 167.22,400.45 169.55,399.34 171.87,398.30 174.20,397.32 176.52,396.40 178.85,395.55 181.18,394.76 183.50,394.03 185.83,393.37 188.16,392.76 190.48,392.22 192.81,391.74" fill="none" stroke="#000" stroke-width="1.8" stroke-dasharray="8.5,7.5" stroke-dashoffset="15.56" clip-path="url(#clipc)"/>
<polyline points="53.23,553.37 54.42,549.66 55.61,546.01 56.80,542.42 57.99,538.87 59.18,535.38 60.37,531.94 61.56,528.54 62.75,525.19 63.94,521.88 65.13,518.62 66.32,515.40 67.51,512.22 68.70,509.08 69.88,505.99 71.07,502.93 72.26,499.92 73.45,496.94 74.64,494.00 75.83,491.10 77.02,488.24 78.21,485.42 79.40,482.63 80.59,479.87 81.78,477.16 82.97,474.47 84.16,471.83 85.35,469.21 86.54,466.64 87.73,464.09 88.92,461.58 90.11,459.10 91.30,456.66 92.49,454.24 93.68,451.86 94.87,449.51 96.06,447.20 97.25,444.91 98.43,442.66 99.62,440.44 100.81,438.24 102.00,436.08 103.19,433.95 104.38,431.85 105.57,429.78 106.76,427.74 107.95,425.73 109.14,423.75 110.33,421.80 111.52,419.87 112.71,417.98 113.90,416.11 115.09,414.28 116.28,412.47 117.47,410.69 118.66,408.93 119.85,407.21 121.04,405.51 122.23,403.84 123.42,402.20 124.61,400.59" fill="none" stroke="#000" stroke-width="1.8" stroke-dasharray="8.5,7.5" stroke-dashoffset="15.17" clip-path="url(#clipc)"/>
<line x1="45.3" y1="311.8" x2="45.3" y2="543.6" stroke="#000" stroke-width="1.4"/>
<line x1="44.699999999999996" y1="543.0" x2="331.3" y2="543.0" stroke="#111" stroke-width="1.4"/>
<line x1="45.30" y1="543.0" x2="45.30" y2="547.8" stroke="#111" stroke-width="1.2"/>
<text x="45.30" y="558.20" font-size="10.1" text-anchor="middle" fill="#1a1a1a" font-weight="normal" textLength="5.39" lengthAdjust="spacingAndGlyphs" >0</text>
<line x1="69.09" y1="543.0" x2="69.09" y2="545.2" stroke="#111" stroke-width="1.2"/>
<line x1="92.88" y1="543.0" x2="92.88" y2="547.8" stroke="#111" stroke-width="1.2"/>
<text x="92.88" y="558.20" font-size="10.1" text-anchor="middle" fill="#1a1a1a" font-weight="normal" textLength="10.78" lengthAdjust="spacingAndGlyphs" >30</text>
<line x1="116.67" y1="543.0" x2="116.67" y2="545.2" stroke="#111" stroke-width="1.2"/>
<line x1="140.47" y1="543.0" x2="140.47" y2="547.8" stroke="#111" stroke-width="1.2"/>
<text x="140.47" y="558.20" font-size="10.1" text-anchor="middle" fill="#1a1a1a" font-weight="normal" textLength="10.78" lengthAdjust="spacingAndGlyphs" >60</text>
<line x1="164.26" y1="543.0" x2="164.26" y2="545.2" stroke="#111" stroke-width="1.2"/>
<line x1="188.05" y1="543.0" x2="188.05" y2="547.8" stroke="#111" stroke-width="1.2"/>
<text x="188.05" y="558.20" font-size="10.1" text-anchor="middle" fill="#1a1a1a" font-weight="normal" textLength="10.78" lengthAdjust="spacingAndGlyphs" >90</text>
<line x1="211.84" y1="543.0" x2="211.84" y2="545.2" stroke="#111" stroke-width="1.2"/>
<line x1="235.63" y1="543.0" x2="235.63" y2="547.8" stroke="#111" stroke-width="1.2"/>
<text x="235.63" y="558.20" font-size="10.1" text-anchor="middle" fill="#1a1a1a" font-weight="normal" textLength="16.17" lengthAdjust="spacingAndGlyphs" >120</text>
<line x1="259.43" y1="543.0" x2="259.43" y2="545.2" stroke="#111" stroke-width="1.2"/>
<line x1="283.22" y1="543.0" x2="283.22" y2="547.8" stroke="#111" stroke-width="1.2"/>
<text x="283.22" y="558.20" font-size="10.1" text-anchor="middle" fill="#1a1a1a" font-weight="normal" textLength="16.17" lengthAdjust="spacingAndGlyphs" >150</text>
<line x1="307.01" y1="543.0" x2="307.01" y2="545.2" stroke="#111" stroke-width="1.2"/>
<line x1="330.80" y1="543.0" x2="330.80" y2="547.8" stroke="#111" stroke-width="1.2"/>
<text x="330.80" y="558.20" font-size="10.1" text-anchor="middle" fill="#1a1a1a" font-weight="normal" textLength="16.17" lengthAdjust="spacingAndGlyphs" >180</text>
<line x1="45.3" y1="543.00" x2="40.8" y2="543.00" stroke="#111" stroke-width="1.2"/>
<text x="37.50" y="546.40" font-size="10.1" text-anchor="end" fill="#1a1a1a" font-weight="normal" textLength="10.78" lengthAdjust="spacingAndGlyphs" >20</text>
<line x1="45.3" y1="523.83" x2="42.8" y2="523.83" stroke="#111" stroke-width="1.2"/>
<line x1="45.3" y1="504.67" x2="40.8" y2="504.67" stroke="#111" stroke-width="1.2"/>
<text x="37.50" y="508.07" font-size="10.1" text-anchor="end" fill="#1a1a1a" font-weight="normal" textLength="10.78" lengthAdjust="spacingAndGlyphs" >40</text>
<line x1="45.3" y1="485.50" x2="42.8" y2="485.50" stroke="#111" stroke-width="1.2"/>
<line x1="45.3" y1="466.33" x2="40.8" y2="466.33" stroke="#111" stroke-width="1.2"/>
<text x="37.50" y="469.73" font-size="10.1" text-anchor="end" fill="#1a1a1a" font-weight="normal" textLength="10.78" lengthAdjust="spacingAndGlyphs" >60</text>
<line x1="45.3" y1="447.17" x2="42.8" y2="447.17" stroke="#111" stroke-width="1.2"/>
<line x1="45.3" y1="428.00" x2="40.8" y2="428.00" stroke="#111" stroke-width="1.2"/>
<text x="37.50" y="431.40" font-size="10.1" text-anchor="end" fill="#1a1a1a" font-weight="normal" textLength="10.78" lengthAdjust="spacingAndGlyphs" >80</text>
<line x1="45.3" y1="408.83" x2="42.8" y2="408.83" stroke="#111" stroke-width="1.2"/>
<line x1="45.3" y1="389.67" x2="40.8" y2="389.67" stroke="#111" stroke-width="1.2"/>
<text x="37.50" y="393.07" font-size="10.1" text-anchor="end" fill="#1a1a1a" font-weight="normal" textLength="16.17" lengthAdjust="spacingAndGlyphs" >100</text>
<line x1="45.3" y1="370.50" x2="42.8" y2="370.50" stroke="#111" stroke-width="1.2"/>
<line x1="45.3" y1="351.33" x2="40.8" y2="351.33" stroke="#111" stroke-width="1.2"/>
<text x="37.50" y="354.73" font-size="10.1" text-anchor="end" fill="#1a1a1a" font-weight="normal" textLength="16.17" lengthAdjust="spacingAndGlyphs" >120</text>
<line x1="45.3" y1="332.17" x2="42.8" y2="332.17" stroke="#111" stroke-width="1.2"/>
<line x1="45.3" y1="313.00" x2="40.8" y2="313.00" stroke="#111" stroke-width="1.2"/>
<text x="37.50" y="316.40" font-size="10.1" text-anchor="end" fill="#1a1a1a" font-weight="normal" textLength="16.17" lengthAdjust="spacingAndGlyphs" >140</text>
<circle cx="64" cy="332.0" r="3.6" fill="#fff" stroke="#fa9a62" stroke-width="1.1"/>
<circle cx="64" cy="344.8" r="4" fill="#ff6a00"/>
<text x="79.00" y="335.80" font-size="10.1" text-anchor="start" fill="#222" font-weight="normal" letter-spacing="0.5">SP1-PRD</text>
<text x="79.00" y="348.60" font-size="10.1" text-anchor="start" fill="#222" font-weight="normal" letter-spacing="0.5">SP2-PRD</text>
<text x="132.90" y="333.00" font-size="10.1" text-anchor="start" fill="#1a1a1a" font-weight="normal" textLength="191.1" lengthAdjust="spacingAndGlyphs" >y=2.29x-0.06x^(5/3)+6.57, R<tspan font-size="7" dy="-3.5">2</tspan><tspan dy="3.5">=0.98</tspan></text>
<text x="132.90" y="347.40" font-size="10.1" text-anchor="start" fill="#1a1a1a" font-weight="normal" textLength="191.1" lengthAdjust="spacingAndGlyphs" >y=2.76x-0.07x^(5/3)+5.23, R<tspan font-size="7" dy="-3.5">2</tspan><tspan dy="3.5">=0.98</tspan></text>
<text x="99.5" y="575.5" font-size="11.7" fill="#222" textLength="183" lengthAdjust="spacingAndGlyphs">DA24 PM<tspan font-size="8.5">2.5</tspan> concentration (μg m<tspan font-size="8" dy="-4">-3</tspan><tspan dy="4">)</tspan></text>
<text x="0" y="0" transform="translate(15.8,427.2) rotate(-90)" text-anchor="middle" font-size="12" fill="#111" textLength="148.0" lengthAdjust="spacingAndGlyphs">MDA8 O<tspan font-size="8.5">3</tspan> mixing ratio (ppb)</text>
<text x="342.00" y="11.20" font-size="14.5" text-anchor="start" fill="#000" font-weight="bold" >b</text>
<rect x="448.1" y="65.3" width="43.099999999999966" height="16.5" fill="#ffca32"/>
<rect x="448.1" y="81.8" width="43.099999999999966" height="30.799999999999997" fill="#8c8c8c"/>
<rect x="448.1" y="112.6" width="43.099999999999966" height="59.20000000000002" fill="#ff924b"/>
<rect x="448.1" y="171.8" width="43.099999999999966" height="85.89999999999998" fill="#5c98e8"/>
<text x="469.65" y="76.50" font-size="10" text-anchor="middle" fill="#1a1a1a" font-weight="normal" >8%</text>
<text x="469.65" y="99.10" font-size="10" text-anchor="middle" fill="#1a1a1a" font-weight="normal" >16%</text>
<text x="469.65" y="147.90" font-size="10" text-anchor="middle" fill="#1a1a1a" font-weight="normal" >31%</text>
<text x="469.65" y="217.30" font-size="10" text-anchor="middle" fill="#1a1a1a" font-weight="normal" >45%</text>
<rect x="591.1" y="89.0" width="43.0" height="12.0" fill="#ffca32"/>
<rect x="591.1" y="101.0" width="43.0" height="17.0" fill="#8c8c8c"/>
<rect x="591.1" y="118.0" width="43.0" height="54.0" fill="#ff924b"/>
<rect x="591.1" y="172.0" width="43.0" height="85.69999999999999" fill="#5c98e8"/>
<text x="612.60" y="98.70" font-size="10" text-anchor="middle" fill="#1a1a1a" font-weight="normal" >7%</text>
<text x="612.60" y="112.10" font-size="10" text-anchor="middle" fill="#1a1a1a" font-weight="normal" >10%</text>
<text x="612.60" y="148.10" font-size="10" text-anchor="middle" fill="#1a1a1a" font-weight="normal" >32%</text>
<text x="612.60" y="216.70" font-size="10" text-anchor="middle" fill="#1a1a1a" font-weight="normal" >51%</text>
<line x1="398.3" y1="27.4" x2="684.2" y2="27.4" stroke="#555" stroke-width="1.1"/>
<line x1="684.2" y1="27.4" x2="684.2" y2="257.7" stroke="#555" stroke-width="1.1"/>
<line x1="394.3" y1="257.7" x2="684.2" y2="257.7" stroke="#969696" stroke-width="1.9"/>
<line x1="398.3" y1="27.4" x2="398.3" y2="259.7" stroke="#5a5a5a" stroke-width="1.3"/>
<line x1="398.3" y1="257.70" x2="394.1" y2="257.70" stroke="#555" stroke-width="1"/>
<line x1="684.2" y1="257.70" x2="680.0" y2="257.70" stroke="#555" stroke-width="1"/>
<text x="390.70" y="261.30" font-size="10.4" text-anchor="end" fill="#222" font-weight="normal" textLength="5.26" lengthAdjust="spacingAndGlyphs" >0</text>
<line x1="398.3" y1="238.51" x2="396.7" y2="238.51" stroke="#555" stroke-width="1"/>
<line x1="684.2" y1="238.51" x2="682.0" y2="238.51" stroke="#555" stroke-width="1"/>
<line x1="398.3" y1="219.32" x2="394.1" y2="219.32" stroke="#555" stroke-width="1"/>
<line x1="684.2" y1="219.32" x2="680.0" y2="219.32" stroke="#555" stroke-width="1"/>
<text x="390.70" y="222.92" font-size="10.4" text-anchor="end" fill="#222" font-weight="normal" textLength="21.05" lengthAdjust="spacingAndGlyphs" >2000</text>
<line x1="398.3" y1="200.12" x2="396.7" y2="200.12" stroke="#555" stroke-width="1"/>
<line x1="684.2" y1="200.12" x2="682.0" y2="200.12" stroke="#555" stroke-width="1"/>
<line x1="398.3" y1="180.93" x2="394.1" y2="180.93" stroke="#555" stroke-width="1"/>
<line x1="684.2" y1="180.93" x2="680.0" y2="180.93" stroke="#555" stroke-width="1"/>
<text x="390.70" y="184.53" font-size="10.4" text-anchor="end" fill="#222" font-weight="normal" textLength="21.05" lengthAdjust="spacingAndGlyphs" >4000</text>
<line x1="398.3" y1="161.74" x2="396.7" y2="161.74" stroke="#555" stroke-width="1"/>
<line x1="684.2" y1="161.74" x2="682.0" y2="161.74" stroke="#555" stroke-width="1"/>
<line x1="398.3" y1="142.55" x2="394.1" y2="142.55" stroke="#555" stroke-width="1"/>
<line x1="684.2" y1="142.55" x2="680.0" y2="142.55" stroke="#555" stroke-width="1"/>
<text x="390.70" y="146.15" font-size="10.4" text-anchor="end" fill="#222" font-weight="normal" textLength="21.05" lengthAdjust="spacingAndGlyphs" >6000</text>
<line x1="398.3" y1="123.36" x2="396.7" y2="123.36" stroke="#555" stroke-width="1"/>
<line x1="684.2" y1="123.36" x2="682.0" y2="123.36" stroke="#555" stroke-width="1"/>
<line x1="398.3" y1="104.17" x2="394.1" y2="104.17" stroke="#555" stroke-width="1"/>
<line x1="684.2" y1="104.17" x2="680.0" y2="104.17" stroke="#555" stroke-width="1"/>
<text x="390.70" y="107.77" font-size="10.4" text-anchor="end" fill="#222" font-weight="normal" textLength="21.05" lengthAdjust="spacingAndGlyphs" >8000</text>
<line x1="398.3" y1="84.97" x2="396.7" y2="84.97" stroke="#555" stroke-width="1"/>
<line x1="684.2" y1="84.97" x2="682.0" y2="84.97" stroke="#555" stroke-width="1"/>
<line x1="398.3" y1="65.78" x2="394.1" y2="65.78" stroke="#555" stroke-width="1"/>
<line x1="684.2" y1="65.78" x2="680.0" y2="65.78" stroke="#555" stroke-width="1"/>
<text x="390.70" y="69.38" font-size="10.4" text-anchor="end" fill="#222" font-weight="normal" textLength="26.31" lengthAdjust="spacingAndGlyphs" >10000</text>
<line x1="398.3" y1="46.59" x2="396.7" y2="46.59" stroke="#555" stroke-width="1"/>
<line x1="684.2" y1="46.59" x2="682.0" y2="46.59" stroke="#555" stroke-width="1"/>
<line x1="398.3" y1="27.40" x2="394.1" y2="27.40" stroke="#555" stroke-width="1"/>
<line x1="684.2" y1="27.40" x2="680.0" y2="27.40" stroke="#555" stroke-width="1"/>
<text x="390.70" y="31.00" font-size="10.4" text-anchor="end" fill="#222" font-weight="normal" textLength="26.31" lengthAdjust="spacingAndGlyphs" >12000</text>
<line x1="469.65" y1="257.7" x2="469.65" y2="261.7" stroke="#555" stroke-width="1"/>
<text x="469.65" y="273.00" font-size="10.4" text-anchor="middle" fill="#222" font-weight="normal" textLength="22" lengthAdjust="spacingAndGlyphs" >2014</text>
<line x1="612.6" y1="257.7" x2="612.6" y2="261.7" stroke="#555" stroke-width="1"/>
<text x="612.60" y="273.00" font-size="10.4" text-anchor="middle" fill="#222" font-weight="normal" textLength="22" lengthAdjust="spacingAndGlyphs" >2016</text>
<line x1="541.125" y1="257.7" x2="541.125" y2="259.7" stroke="#555" stroke-width="1"/>
<text x="650.00" y="41.20" font-size="10.5" text-anchor="start" fill="#333" font-weight="normal" textLength="20" lengthAdjust="spacingAndGlyphs" >YRD</text>
<rect x="518" y="207.1" width="22" height="11.099999999999994" fill="#ffca32"/>
<rect x="518" y="219.9" width="22" height="11.099999999999994" fill="#8c8c8c"/>
<rect x="518" y="231.7" width="22" height="10.800000000000011" fill="#ff924b"/>
<rect x="518" y="243.5" width="22" height="11.0" fill="#5c98e8"/>
<text x="542.30" y="216.25" font-size="10.2" text-anchor="start" fill="#222" font-weight="normal" >PM<tspan font-size="7">2.5</tspan></text>
<text x="542.30" y="229.05" font-size="10.2" text-anchor="start" fill="#222" font-weight="normal" >SO<tspan font-size="7.5">2</tspan></text>
<text x="542.30" y="240.70" font-size="10.2" text-anchor="start" fill="#222" font-weight="normal" >NO<tspan font-size="7.5">x</tspan></text>
<text x="542.30" y="252.60" font-size="10.2" text-anchor="start" fill="#222" font-weight="normal" >VOC</text>
<text x="0" y="0" transform="translate(358.3,142.5) rotate(-90)" text-anchor="middle" font-size="12" fill="#111" textLength="213.0" lengthAdjust="spacingAndGlyphs">Annual anthropogenic emissions (ktons)</text>
<text x="342.00" y="295.30" font-size="14.5" text-anchor="start" fill="#000" font-weight="bold" >d</text>
<rect x="448.4" y="337.2" width="43.10000000000002" height="17.0" fill="#ffca32"/>
<rect x="448.4" y="354.2" width="43.10000000000002" height="30.69999999999999" fill="#8c8c8c"/>
<rect x="448.4" y="384.9" width="43.10000000000002" height="55.700000000000045" fill="#ff924b"/>
<rect x="448.4" y="440.6" width="43.10000000000002" height="103.89999999999998" fill="#5c98e8"/>
<text x="469.95" y="348.10" font-size="10" text-anchor="middle" fill="#1a1a1a" font-weight="normal" >8%</text>
<text x="469.95" y="373.60" font-size="10" text-anchor="middle" fill="#1a1a1a" font-weight="normal" >15%</text>
<text x="469.95" y="420.20" font-size="10" text-anchor="middle" fill="#1a1a1a" font-weight="normal" >27%</text>
<text x="467.55" y="494.00" font-size="10" text-anchor="middle" fill="#1a1a1a" font-weight="normal" >50%</text>
<rect x="591.1" y="350.2" width="43.10000000000002" height="14.900000000000034" fill="#ffca32"/>
<rect x="591.1" y="365.1" width="43.10000000000002" height="24.899999999999977" fill="#8c8c8c"/>
<rect x="591.1" y="390.0" width="43.10000000000002" height="52.5" fill="#ff924b"/>
<rect x="591.1" y="442.5" width="43.10000000000002" height="102.0" fill="#5c98e8"/>
<text x="612.65" y="361.10" font-size="10" text-anchor="middle" fill="#1a1a1a" font-weight="normal" >7%</text>
<text x="612.65" y="380.60" font-size="10" text-anchor="middle" fill="#1a1a1a" font-weight="normal" >13%</text>
<text x="612.65" y="422.20" font-size="10" text-anchor="middle" fill="#1a1a1a" font-weight="normal" >27%</text>
<text x="612.65" y="492.80" font-size="10" text-anchor="middle" fill="#1a1a1a" font-weight="normal" >53%</text>
<line x1="398.1" y1="314.4" x2="684.1" y2="314.4" stroke="#555" stroke-width="1.1"/>
<line x1="684.1" y1="314.4" x2="684.1" y2="544.5" stroke="#555" stroke-width="1.1"/>
<line x1="394.1" y1="544.5" x2="684.1" y2="544.5" stroke="#969696" stroke-width="1.9"/>
<line x1="398.1" y1="314.4" x2="398.1" y2="546.5" stroke="#5a5a5a" stroke-width="1.3"/>
<line x1="398.1" y1="544.50" x2="393.90000000000003" y2="544.50" stroke="#555" stroke-width="1"/>
<line x1="684.1" y1="544.50" x2="679.9" y2="544.50" stroke="#555" stroke-width="1"/>
<text x="390.50" y="548.10" font-size="10.4" text-anchor="end" fill="#222" font-weight="normal" textLength="5.26" lengthAdjust="spacingAndGlyphs" >0</text>
<line x1="398.1" y1="521.49" x2="396.5" y2="521.49" stroke="#555" stroke-width="1"/>
<line x1="684.1" y1="521.49" x2="681.9" y2="521.49" stroke="#555" stroke-width="1"/>
<line x1="398.1" y1="498.48" x2="393.90000000000003" y2="498.48" stroke="#555" stroke-width="1"/>
<line x1="684.1" y1="498.48" x2="679.9" y2="498.48" stroke="#555" stroke-width="1"/>
<text x="390.50" y="502.08" font-size="10.4" text-anchor="end" fill="#222" font-weight="normal" textLength="21.05" lengthAdjust="spacingAndGlyphs" >1000</text>
<line x1="398.1" y1="475.47" x2="396.5" y2="475.47" stroke="#555" stroke-width="1"/>
<line x1="684.1" y1="475.47" x2="681.9" y2="475.47" stroke="#555" stroke-width="1"/>
<line x1="398.1" y1="452.46" x2="393.90000000000003" y2="452.46" stroke="#555" stroke-width="1"/>
<line x1="684.1" y1="452.46" x2="679.9" y2="452.46" stroke="#555" stroke-width="1"/>
<text x="390.50" y="456.06" font-size="10.4" text-anchor="end" fill="#222" font-weight="normal" textLength="21.05" lengthAdjust="spacingAndGlyphs" >2000</text>
<line x1="398.1" y1="429.45" x2="396.5" y2="429.45" stroke="#555" stroke-width="1"/>
<line x1="684.1" y1="429.45" x2="681.9" y2="429.45" stroke="#555" stroke-width="1"/>
<line x1="398.1" y1="406.44" x2="393.90000000000003" y2="406.44" stroke="#555" stroke-width="1"/>
<line x1="684.1" y1="406.44" x2="679.9" y2="406.44" stroke="#555" stroke-width="1"/>
<text x="390.50" y="410.04" font-size="10.4" text-anchor="end" fill="#222" font-weight="normal" textLength="21.05" lengthAdjust="spacingAndGlyphs" >3000</text>
<line x1="398.1" y1="383.43" x2="396.5" y2="383.43" stroke="#555" stroke-width="1"/>
<line x1="684.1" y1="383.43" x2="681.9" y2="383.43" stroke="#555" stroke-width="1"/>
<line x1="398.1" y1="360.42" x2="393.90000000000003" y2="360.42" stroke="#555" stroke-width="1"/>
<line x1="684.1" y1="360.42" x2="679.9" y2="360.42" stroke="#555" stroke-width="1"/>
<text x="390.50" y="364.02" font-size="10.4" text-anchor="end" fill="#222" font-weight="normal" textLength="21.05" lengthAdjust="spacingAndGlyphs" >4000</text>
<line x1="398.1" y1="337.41" x2="396.5" y2="337.41" stroke="#555" stroke-width="1"/>
<line x1="684.1" y1="337.41" x2="681.9" y2="337.41" stroke="#555" stroke-width="1"/>
<line x1="398.1" y1="314.40" x2="393.90000000000003" y2="314.40" stroke="#555" stroke-width="1"/>
<line x1="684.1" y1="314.40" x2="679.9" y2="314.40" stroke="#555" stroke-width="1"/>
<text x="390.50" y="318.00" font-size="10.4" text-anchor="end" fill="#222" font-weight="normal" textLength="21.05" lengthAdjust="spacingAndGlyphs" >5000</text>
<line x1="469.95" y1="544.5" x2="469.95" y2="548.5" stroke="#555" stroke-width="1"/>
<text x="469.95" y="559.80" font-size="10.4" text-anchor="middle" fill="#222" font-weight="normal" textLength="22" lengthAdjust="spacingAndGlyphs" >2014</text>
<line x1="612.6500000000001" y1="544.5" x2="612.6500000000001" y2="548.5" stroke="#555" stroke-width="1"/>
<text x="612.65" y="559.80" font-size="10.4" text-anchor="middle" fill="#222" font-weight="normal" textLength="22" lengthAdjust="spacingAndGlyphs" >2016</text>
<line x1="541.3" y1="544.5" x2="541.3" y2="546.5" stroke="#555" stroke-width="1"/>
<text x="653.70" y="330.00" font-size="10.5" text-anchor="start" fill="#333" font-weight="normal" textLength="20" lengthAdjust="spacingAndGlyphs" >PRD</text>
<rect x="518" y="492.9" width="22" height="10.700000000000045" fill="#ffca32"/>
<rect x="518" y="505.3" width="22" height="10.699999999999989" fill="#8c8c8c"/>
<rect x="518" y="517.1" width="22" height="10.699999999999932" fill="#ff924b"/>
<rect x="518" y="529.7" width="22" height="10.199999999999932" fill="#5c98e8"/>
<text x="542.30" y="501.85" font-size="10.2" text-anchor="start" fill="#222" font-weight="normal" >PM<tspan font-size="7">2.5</tspan></text>
<text x="542.30" y="514.25" font-size="10.2" text-anchor="start" fill="#222" font-weight="normal" >SO<tspan font-size="7.5">2</tspan></text>
<text x="542.30" y="526.05" font-size="10.2" text-anchor="start" fill="#222" font-weight="normal" >NO<tspan font-size="7.5">x</tspan></text>
<text x="542.30" y="538.40" font-size="10.2" text-anchor="start" fill="#222" font-weight="normal" >VOC</text>
<text x="0" y="0" transform="translate(362.6,429.35) rotate(-90)" text-anchor="middle" font-size="12" fill="#111" textLength="212.5" lengthAdjust="spacingAndGlyphs">Annual anthropogenic emissions (ktons)</text>
</svg></body></html>
